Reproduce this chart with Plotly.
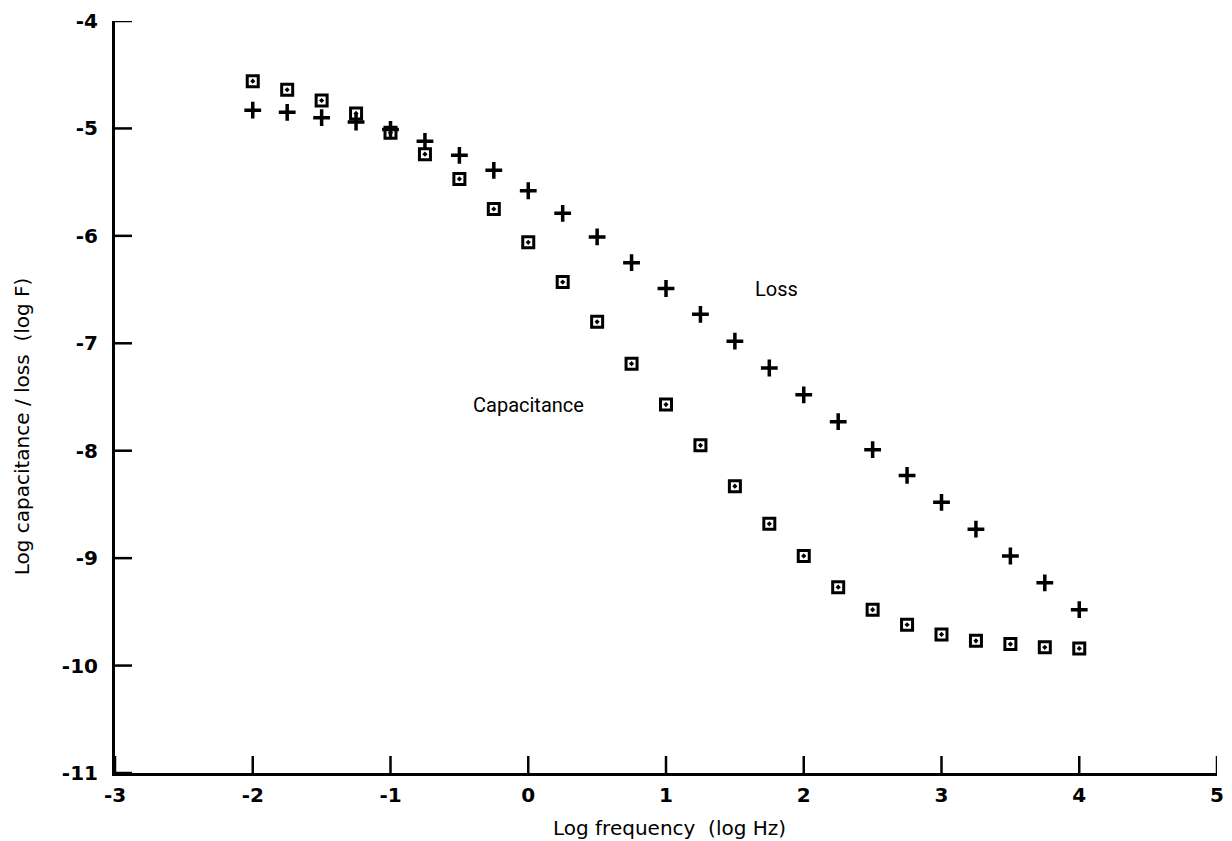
import plotly.graph_objects as go

# Data
log_freq = [-2.0, -1.75, -1.5, -1.25, -1.0, -0.75, -0.5, -0.25, 0.0, 0.25, 0.5, 0.75, 1.0,
            1.25, 1.5, 1.75, 2.0, 2.25, 2.5, 2.75, 3.0, 3.25, 3.5, 3.75, 4.0]
capacitance = [-4.56, -4.64, -4.74, -4.86, -5.04, -5.24, -5.47, -5.75, -6.06, -6.43, -6.80,
               -7.19, -7.57, -7.95, -8.33, -8.68, -8.98, -9.27, -9.48, -9.62, -9.71, -9.77,
               -9.80, -9.83, -9.84]
loss = [-4.83, -4.85, -4.90, -4.94, -5.01, -5.12, -5.25, -5.39, -5.58, -5.79, -6.01, -6.25,
        -6.49, -6.73, -6.98, -7.23, -7.48, -7.73, -7.99, -8.23, -8.48, -8.73, -8.98, -9.23, -9.48]

x_ticks = [-3, -2, -1, 0, 1, 2, 3, 4, 5]
x_tick_text = ["-3", "-2", "-1", "0", "1", "2", "3", "4", "5"]
y_ticks = [-11, -10, -9, -8, -7, -6, -5, -4]
y_tick_text = ["-11", "-10", "-9", "-8", "-7", "-6", "-5", "-4"]

X_MIN, X_MAX = -3, 5
Y_MIN, Y_MAX = -11, -4

label_font = "Roboto, DejaVu Sans"
title_font = dict(family="DejaVu Sans", size=20, color="black")
tick_font = dict(family="DejaVu Sans", size=20, color="black", weight="bold")
TICK_LEN = 17

fig = go.Figure()
fig.add_trace(go.Scatter(
    x=log_freq, y=capacitance, mode="markers", name="Capacitance",
    marker=dict(symbol="square-open-dot", size=11, color="black",
                line=dict(color="black", width=3)),
))
fig.add_trace(go.Scatter(
    x=log_freq, y=loss, mode="markers", name="Loss",
    marker=dict(symbol="cross-thin", size=12, color="black",
                line=dict(color="black", width=3.5)),
))

fig.add_annotation(x=1.80, y=-6.49, text="Loss", showarrow=False,
                   font=dict(family=label_font, size=20, color="black"))
fig.add_annotation(x=0.0, y=-7.575, text="Capacitance", showarrow=False,
                   font=dict(family=label_font, size=20, color="black"))

# axis titles as annotations for precise placement
fig.add_annotation(xref="paper", yref="paper", x=0, y=0.461, xshift=-93,
                   xanchor="center", yanchor="middle",
                   text="Log capacitance / loss  (log F)", textangle=-90,
                   showarrow=False, font=title_font)
fig.add_annotation(xref="paper", yref="paper", x=0.503, y=0, yshift=-55,
                   xanchor="center", yanchor="middle",
                   text="Log frequency  (log Hz)", showarrow=False, font=title_font)

# inward tick marks
for v in x_ticks:
    fig.add_shape(type="line", xref="x", yref="y", x0=v, x1=v,
                  ysizemode="pixel", yanchor=Y_MIN, y0=0, y1=TICK_LEN,
                  line=dict(color="black", width=2.5))
for v in y_ticks:
    fig.add_shape(type="line", xref="x", yref="y", y0=v, y1=v,
                  xsizemode="pixel", xanchor=X_MIN, x0=0, x1=TICK_LEN,
                  line=dict(color="black", width=2.5))

fig.update_layout(
    width=1232, height=841,
    margin=dict(l=115, r=15, t=21, b=68),
    paper_bgcolor="white", plot_bgcolor="white",
    showlegend=False,
    font=dict(family="DejaVu Sans", color="black"),
)
fig.update_xaxes(
    range=[X_MIN, X_MAX], tickvals=x_ticks, ticktext=x_tick_text, automargin=False,
    showgrid=False, zeroline=False, showline=True, linecolor="black", linewidth=3,
    ticks="", tickfont=tick_font, ticklabelstandoff=2,
)
fig.update_yaxes(
    range=[Y_MIN, Y_MAX], tickvals=y_ticks, ticktext=y_tick_text, automargin=False,
    showgrid=False, zeroline=False, showline=True, linecolor="black", linewidth=3,
    ticks="", tickfont=tick_font, ticklabelstandoff=10,
)

fig.write_html("out.html")
